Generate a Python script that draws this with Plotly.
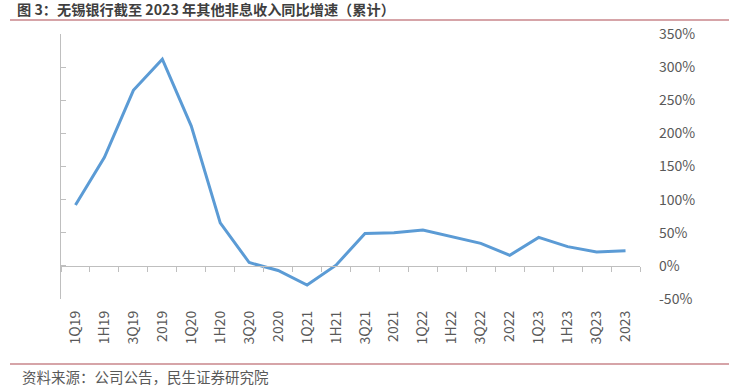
import plotly.graph_objects as go

categories = ["1Q19", "1H19", "3Q19", "2019", "1Q20", "1H20", "3Q20", "2020",
              "1Q21", "1H21", "3Q21", "2021", "1Q22", "1H22", "3Q22", "2022",
              "1Q23", "1H23", "3Q23", "2023"]
growth = [92, 164, 265, 312, 211, 65, 5, -7, -29, 1, 49, 50, 54, 44, 34, 16,
          43, 29, 21, 23]
y_ticks = [-50, 0, 50, 100, 150, 200, 250, 300, 350]
y_range = [-50, 350]

title_text = "图 3：无锡银行截至 2023 年其他非息收入同比增速（累计）"
source_text = "资料来源：公司公告，民生证券研究院"

W, H = 729, 387
L, R, T, B = 61, 640, 34, 299

def px(x):
    return (x - L) / (R - L)

def py(y):
    return (B - y) / (B - T)

fig = go.Figure()
fig.add_trace(go.Scatter(x=categories, y=growth, mode="lines",
                         line=dict(color="#5B9BD5", width=3),
                         xaxis="x", yaxis="y", hoverinfo="skip", showlegend=False))
# helper trace for the overlay axes
fig.add_trace(go.Scatter(x=categories, y=growth, mode="lines",
                         line=dict(color="rgba(0,0,0,0)", width=0),
                         xaxis="x2", yaxis="y2", hoverinfo="skip", showlegend=False))

zero_pos = (0 - y_range[0]) / (y_range[1] - y_range[0])
axis_color = "#BFBFBF"
label_color = "#595959"

fig.update_layout(
    width=W, height=H,
    margin=dict(l=L, r=W - R, t=T, b=H - B),
    paper_bgcolor="white", plot_bgcolor="white",
    font=dict(family="Noto Sans CJK SC, Open Sans, sans-serif", color=label_color),
    xaxis=dict(type="category", categoryorder="array", categoryarray=categories,
               range=[-0.5, len(categories) - 0.5],
               showline=False, ticks="", showgrid=False, zeroline=False,
               tickangle=-90, ticklabelstandoff=8,
               tickfont=dict(size=14, color=label_color)),
    xaxis2=dict(type="category", categoryorder="array", categoryarray=categories,
                range=[-0.5, len(categories) - 0.5],
                overlaying="x", anchor="free", position=zero_pos,
                showline=True, linecolor=axis_color, linewidth=1,
                ticks="outside", tickson="boundaries", ticklen=5,
                tickcolor=axis_color, showticklabels=False,
                showgrid=False, zeroline=False),
    yaxis=dict(range=y_range, tickvals=y_ticks, showline=True,
               linecolor=axis_color, linewidth=1, ticks="inside", ticklen=5,
               tickcolor=axis_color, showticklabels=False,
               showgrid=False, zeroline=False),
    yaxis2=dict(range=y_range, tickvals=y_ticks,
                ticktext=[f"{v}%" for v in y_ticks],
                overlaying="y", side="right", anchor="x",
                showline=False, ticks="", showgrid=False, zeroline=False,
                ticklabelstandoff=18,
                tickfont=dict(size=14, color=label_color)),
    shapes=[
        dict(type="line", xref="paper", yref="paper",
             x0=px(10), x1=px(729), y0=py(20), y1=py(20),
             line=dict(color="#C9868B", width=1.5)),
        dict(type="line", xref="paper", yref="paper",
             x0=px(10), x1=px(729), y0=py(364), y1=py(364),
             line=dict(color="#C9868B", width=1.5)),
    ],
    annotations=[
        dict(text=f"<b>{title_text}</b>", xref="paper", yref="paper",
             x=px(15), y=py(9), xanchor="left", yanchor="middle",
             showarrow=False,
             font=dict(size=14.2, color="#3F3F3F",
                       family="Noto Sans CJK SC, sans-serif")),
        dict(text=source_text, xref="paper", yref="paper",
             x=px(20), y=py(376), xanchor="left", yanchor="middle",
             showarrow=False,
             font=dict(size=14.5, color="#595959",
                       family="Noto Sans CJK SC, sans-serif")),
    ],
)

fig.write_html("out.html")
